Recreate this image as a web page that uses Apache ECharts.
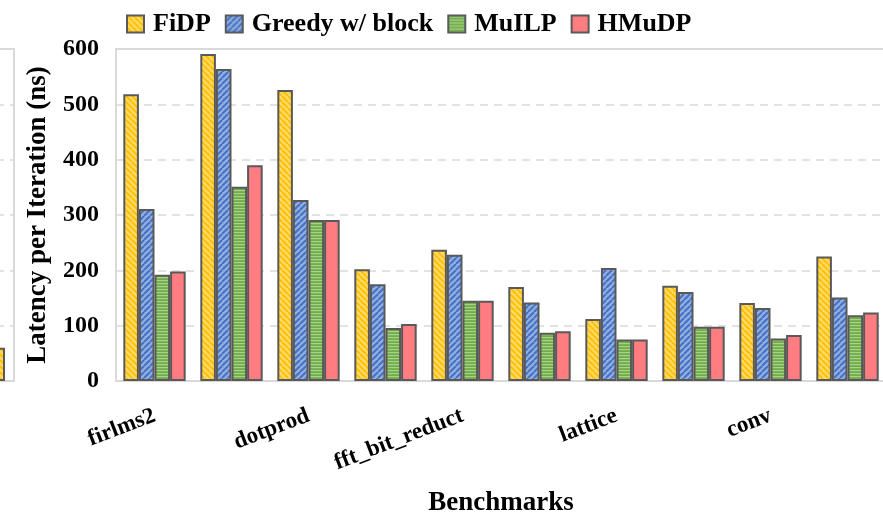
<!DOCTYPE html>
<html>
<head>
<meta charset="utf-8">
<title>Latency per Iteration</title>
<script src="https://cdn.jsdelivr.net/npm/echarts@6/dist/echarts.min.js"></script>
<style>
  html, body { margin: 0; padding: 0; background: #fff; }
  #main { width: 883px; height: 515px; }
</style>
</head>
<body>
<div id="main"></div>
<script>
// 数据
const benchmarks = ["firlms2", "fir", "dotprod", "matmul", "fft_bit_reduct", "iir", "lattice", "sobel", "conv", "biquad"];
const seriesNames = ["FiDP", "Greedy w/ block", "MuILP", "HMuDP"];
const fidp = [518, 591, 526, 202, 237, 170, 112, 172, 141, 225];
const greedy = [311, 564, 327, 175, 228, 142, 204, 161, 132, 151];
const muilp = [192, 351, 291, 96, 145, 87, 75, 98, 77, 119];
const hmudp = [198, 390, 291, 103, 145, 90, 75, 98, 83, 124];
// 左侧被裁掉的上一张图
const prevCategories = ["prev"];
const prevValues = [60];
const yTicks = { min: 0, max: 600, interval: 100 };

// 斜线/横线填充
function stripe(bg, fg, dir) {
  const c = document.createElement("canvas");
  c.width = 6;
  c.height = 6;
  const ctx = c.getContext("2d");
  ctx.fillStyle = bg;
  ctx.fillRect(0, 0, 6, 6);
  ctx.strokeStyle = fg;
  ctx.lineWidth = 2;
  for (let k = -1; k <= 1; k++) {
    ctx.beginPath();
    if (dir === "\\") {
      ctx.moveTo(k * 6, 0);
      ctx.lineTo(k * 6 + 6, 6);
    } else {
      ctx.moveTo(k * 6, 6);
      ctx.lineTo(k * 6 + 6, 0);
    }
    ctx.stroke();
  }
  return { image: c, repeat: "repeat" };
}
function hlines(bg, fg) {
  const c = document.createElement("canvas");
  c.width = 4;
  c.height = 3;
  const ctx = c.getContext("2d");
  ctx.fillStyle = bg;
  ctx.fillRect(0, 0, 4, 3);
  ctx.fillStyle = fg;
  ctx.fillRect(0, 1, 4, 1.2);
  return { image: c, repeat: "repeat" };
}

function initEcharts() {
  const myChart = echarts.init(document.getElementById("main"));
  const font = "Liberation Serif";
  const border = { borderColor: "#595959", borderWidth: 2 };
  const fills = [
    stripe("#FFDA6A", "#FFC000", "\\"),
    stripe("#93AEE0", "#4472C4", "/"),
    hlines("#70AD47", "#A9D18E"),
    "#FF7C80",
  ];
  const values = [fidp, greedy, muilp, hmudp];
  const gridLine = { show: true, lineStyle: { color: "#D9D9D9", width: 1.5, type: [8, 6] } };

  const series = seriesNames.map((name, i) => ({
    name: name,
    type: "bar",
    xAxisIndex: 0,
    yAxisIndex: 0,
    data: values[i],
    barGap: "0%",
    barCategoryGap: "19%",
    itemStyle: Object.assign({ color: fills[i] }, border),
  }));
  series.push({
    name: "prev",
    type: "bar",
    xAxisIndex: 1,
    yAxisIndex: 1,
    data: prevValues,
    barWidth: 56,
    itemStyle: Object.assign({ color: fills[0] }, border),
  });

  const option = {
    animation: false,
    backgroundColor: "#fff",
    legend: {
      data: seriesNames,
      icon: "rect",
      left: 121,
      top: 6,
      itemWidth: 17,
      itemHeight: 17,
      itemGap: 14,
      textStyle: {
        fontFamily: font,
        fontWeight: "bold",
        fontSize: 26,
        color: "#000",
        padding: [0, 0, 0, 4],
      },
    },
    grid: [
      {
        left: 116,
        right: -3,
        top: 49,
        bottom: 134,
        show: true,
        borderColor: "#D9D9D9",
        borderWidth: 2,
        containLabel: false,
        outerBoundsMode: "none",
      },
      {
        left: -60,
        width: 74,
        top: 49,
        bottom: 134,
        show: true,
        borderColor: "#D9D9D9",
        borderWidth: 2,
        containLabel: false,
        outerBoundsMode: "none",
      },
    ],
    xAxis: [
      {
        type: "category",
        gridIndex: 0,
        data: benchmarks,
        axisTick: { show: false },
        axisLine: { lineStyle: { color: "#D9D9D9", width: 2 } },
        axisLabel: {
          interval: 1,
          rotate: 21,
          margin: 34,
          color: "#000",
          fontFamily: font,
          fontWeight: "bold",
          fontSize: 23,
        },
        name: "Benchmarks",
        nameLocation: "middle",
        nameGap: 109,
        nameTextStyle: {
          color: "#000",
          fontFamily: font,
          fontWeight: "bold",
          fontSize: 27,
        },
      },
      {
        type: "category",
        gridIndex: 1,
        data: prevCategories,
        axisTick: { show: false },
        axisLabel: { show: false },
        axisLine: { lineStyle: { color: "#D9D9D9", width: 2 } },
      },
    ],
    yAxis: [
      {
        type: "value",
        gridIndex: 0,
        min: yTicks.min,
        max: yTicks.max,
        interval: yTicks.interval,
        axisLine: { show: false },
        axisTick: { show: false },
        splitLine: gridLine,
        axisLabel: {
          margin: 17,
          color: "#000",
          fontFamily: font,
          fontWeight: "bold",
          fontSize: 24,
        },
        name: "Latency per Iteration (ns)",
        nameLocation: "middle",
        nameGap: 64,
        nameTextStyle: {
          color: "#000",
          fontFamily: font,
          fontWeight: "bold",
          fontSize: 27,
        },
      },
      {
        type: "value",
        gridIndex: 1,
        min: yTicks.min,
        max: yTicks.max,
        interval: yTicks.interval,
        axisLine: { show: false },
        axisTick: { show: false },
        axisLabel: { show: false },
        splitLine: gridLine,
      },
    ],
    series: series,
  };
  myChart.setOption(option);
}

initEcharts();
</script>
</body>
</html>
